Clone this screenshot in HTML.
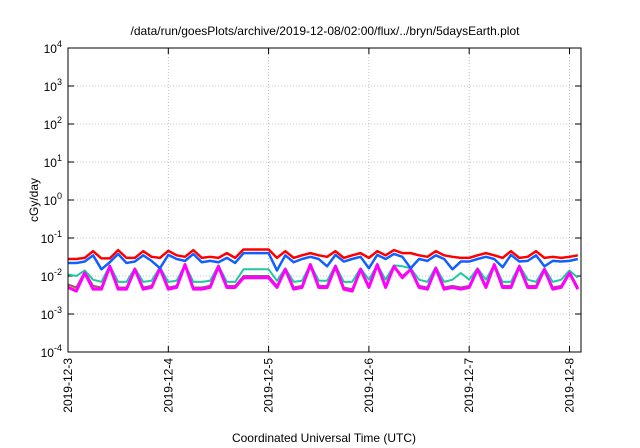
<!DOCTYPE html>
<html><head><meta charset="utf-8"><style>
body{margin:0;background:#fff}
svg{display:block;font-family:"Liberation Sans",sans-serif}
</style></head><body>
<svg id="c" width="640" height="448" viewBox="0 0 640 448"></svg>
<script>
const dayTicks = ["2019-12-3","2019-12-4","2019-12-5","2019-12-6","2019-12-7","2019-12-8"];
const yExps = [-4,-3,-2,-1,0,1,2,3,4];
// values in units of 1e-2 cGy/day, sampled every 2 hours starting 2019-12-3 00:00
const red = [2.8,2.8,3.0,4.5,2.9,2.9,4.8,3.0,3.0,4.5,3.2,3.0,4.6,3.5,3.2,4.8,3.0,3.2,3.0,4.0,3.0,5.0,5.0,5.0,5.0,3.0,4.5,3.0,3.5,4.0,3.5,3.2,4.5,3.0,3.5,4.0,3.0,4.5,3.5,4.8,4.0,4.0,3.5,3.2,4.5,3.5,3.2,3.0,3.0,3.5,4.0,3.5,3.0,4.5,3.0,3.2,4.5,3.0,3.2,3.0,3.2,3.5];
const blue = [2.2,2.2,2.4,3.5,1.5,2.3,3.8,2.2,2.4,3.5,2.5,1.6,3.6,2.8,2.5,3.8,2.3,2.5,2.3,3.0,2.2,4.0,4.0,4.0,4.0,1.4,3.5,2.3,2.8,3.2,2.8,1.8,3.6,2.4,2.8,3.2,1.6,3.6,2.8,3.8,3.2,1.6,2.8,2.5,3.5,2.8,1.5,2.4,2.4,2.8,3.2,2.8,1.7,3.6,2.4,2.5,3.5,1.8,2.5,2.4,2.5,2.8];
const teal = [1.1,1.0,1.4,0.8,0.7,1.9,0.7,0.7,1.6,0.7,0.75,1.7,0.7,0.75,2.0,0.7,0.7,0.75,1.9,0.7,0.7,1.5,1.5,1.5,1.5,0.75,1.6,0.7,0.75,2.0,0.75,0.75,1.9,0.7,0.7,1.6,0.8,2.0,0.8,1.9,1.8,1.6,0.8,0.7,1.7,0.7,0.8,1.2,0.8,1.6,0.8,2.0,0.7,0.7,1.9,0.8,0.7,1.6,0.7,0.8,1.4,0.9];
const brown = [0.6,0.5,1.3,0.55,0.5,1.8,0.5,0.5,1.5,0.5,0.55,1.6,0.5,0.55,1.9,0.5,0.5,0.55,1.8,0.55,0.55,1.0,1.0,1.0,1.0,0.55,1.5,0.5,0.55,1.9,0.55,0.55,1.8,0.5,0.45,1.5,0.55,1.9,0.55,1.8,1.0,1.5,0.55,0.5,1.6,0.5,0.55,0.5,0.55,1.5,0.55,1.9,0.55,0.55,1.8,0.55,0.55,1.5,0.5,0.55,1.3,0.5];
const yellow = [0.55,0.45,1.25,0.5,0.48,1.8,0.48,0.48,1.5,0.48,0.52,1.6,0.48,0.52,1.9,0.48,0.48,0.52,1.8,0.52,0.52,0.95,0.95,0.95,0.95,0.52,1.5,0.48,0.52,1.9,0.52,0.52,1.8,0.48,0.43,1.5,0.52,1.9,0.52,1.8,0.95,1.5,0.52,0.48,1.6,0.48,0.52,0.48,0.52,1.5,0.52,1.9,0.52,0.52,1.8,0.52,0.52,1.5,0.48,0.52,1.25,0.48];
const magenta = [0.5,0.4,1.2,0.45,0.45,1.8,0.45,0.45,1.5,0.45,0.5,1.6,0.45,0.5,2.0,0.45,0.45,0.5,1.8,0.5,0.5,0.9,0.9,0.9,0.9,0.5,1.5,0.45,0.5,2.0,0.5,0.5,1.8,0.45,0.4,1.5,0.5,2.0,0.5,1.8,0.9,1.5,0.5,0.45,1.6,0.45,0.5,0.45,0.5,1.5,0.5,2.0,0.5,0.5,1.8,0.5,0.5,1.5,0.45,0.5,1.2,0.45];
const stepHours = 2;

const L=68,R=581,T=48,B=352, dayPx=100.3, dec=38;
const xs = d => L + d*dayPx;
const ys = v => B - (Math.log10(v) + 4)*dec;
const svg = document.getElementById('c');
const NS='http://www.w3.org/2000/svg';
function mk(tag, attrs, parent){const e=document.createElementNS(NS,tag);for(const k in attrs)e.setAttribute(k,attrs[k]);(parent||svg).appendChild(e);return e;}

const grid = mk('g',{});


yExps.forEach(e=>{const y=ys(Math.pow(10,e));
  if(e>-4&&e<4) mk('line',{x1:L,x2:R,y1:y,y2:y,stroke:'#b0b0b0','stroke-dasharray':'1,2','stroke-width':0.8},grid);
  mk('line',{x1:L,x2:L+6,y1:y,y2:y,stroke:'#000'},grid);
  mk('line',{x1:R,x2:R-6,y1:y,y2:y,stroke:'#000'},grid);
  const t=mk('text',{x:L-6,y:y+5,'text-anchor':'end','font-size':12});
  
  
  t.innerHTML='10<tspan dy="-6" font-size="9">'+e+'</tspan>';
});
dayTicks.forEach((lab,i)=>{const x=xs(i);
  if(i>0) mk('line',{x1:x,x2:x,y1:T,y2:B,stroke:'#b0b0b0','stroke-dasharray':'1,2','stroke-width':0.8},grid);
  mk('line',{x1:x,x2:x,y1:B,y2:B-6,stroke:'#000'},grid);
  mk('line',{x1:x,x2:x,y1:T,y2:T+6,stroke:'#000'},grid);
  const t=mk('text',{x:0,y:0,'text-anchor':'end','font-size':12,transform:`translate(${x+4},${B+6}) rotate(-90)`});
  
  
  t.textContent=lab;
});

const series=[['yellow-series',yellow,'#e6c800',2],['brown-series',brown,'#a0508a',2],['teal-series',teal,'#20c8a0',2],['magenta-series',magenta,'#ff00ff',3],['blue-series',blue,'#1060ff',2.5],['red-series',red,'#ff0000',2.5]];
series.forEach(([n,arr,col,w])=>{
  const pts=arr.map((v,i)=>[xs(i*stepHours/24), ys(v/100)]).map(p=>[Math.min(p[0],R),p[1]]);
  const p=mk('polyline',{points:pts.map(p=>p.join(',')).join(' '),fill:'none',stroke:col,'stroke-width':w,'stroke-linejoin':'round'});
  
  
});

const frame=mk('rect',{x:L,y:T,width:R-L,height:B-T,fill:'none',stroke:'#000','stroke-width':1});


const title=mk('text',{x:325,y:35,'text-anchor':'middle','font-size':12});


title.textContent='/data/run/goesPlots/archive/2019-12-08/02:00/flux/../bryn/5daysEarth.plot';
const yt=mk('text',{x:0,y:0,'text-anchor':'middle','font-size':12,transform:'translate(38,200) rotate(-90)'});


yt.textContent='cGy/day';
const xt=mk('text',{x:324,y:442,'text-anchor':'middle','font-size':12});


xt.textContent='Coordinated Universal Time (UTC)';
</script>
</body></html>
